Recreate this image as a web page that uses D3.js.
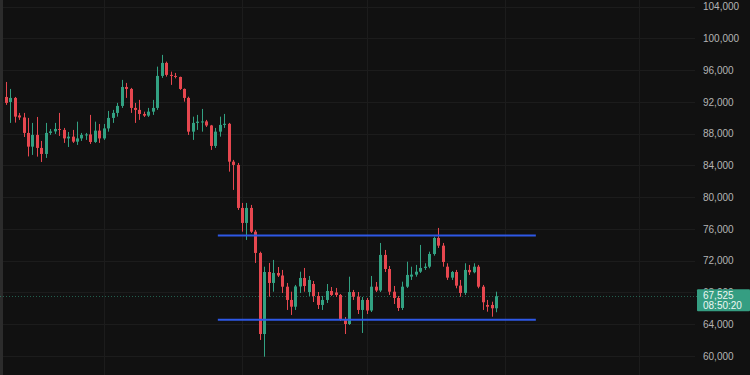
<!DOCTYPE html>
<html>
<head>
<meta charset="utf-8">
<script src="https://cdn.jsdelivr.net/npm/d3@7"></script>
<style>
  body { margin: 0; background: #111111; }
</style>
</head>
<body>
<div class="chart"></div>
<script>
// Daily candles, first one on this date
var firstDay = "2025-12-10";

var open = [92630, 92000, 92510, 90300, 90050, 88100, 86370, 87850, 86210, 85450,
    88100, 88290, 88600, 88480, 87410, 87630, 87000, 87410, 87850, 87910,
    86960, 88390, 87410, 88670, 89990, 90620, 91500, 93890, 93640, 91250,
    91000, 90490, 90280, 90780, 91250, 95280, 96920, 95410, 95280, 95150,
    93640, 92510, 88260, 89360, 89420, 89550, 89040, 86460, 88260, 89110,
    89250, 84480, 84070, 78650, 76760, 78650, 75660, 72980, 62770, 70580,
    69200, 70460, 70140, 68730, 67060, 66210, 68760, 69830, 68060, 69070,
    67560, 66430, 67060, 68190, 68000, 67690, 64600, 64030, 68060, 67470,
    65800, 67060, 65730, 68730, 68250, 72730, 70960, 68100, 67310, 66050,
    68730, 70000, 70250, 70620, 71090, 71250, 72850, 74870, 73900, 71250,
    69870, 70580, 68860, 67940, 70840, 70550, 71250, 68730, 66430, 66430,
    66010];

var high = [94520, 93640, 92630, 90620, 90620, 89990, 89360, 90110, 87090, 89360,
    88600, 89360, 90620, 88730, 88220, 88480, 89520, 88100, 88100, 90370,
    89520, 89230, 89230, 90870, 91000, 91880, 94780, 94400, 93770, 91880,
    92260, 90780, 91250, 92260, 96450, 97930, 97080, 95820, 95660, 95190,
    93700, 92670, 90150, 90370, 91120, 89740, 89110, 88730, 90150, 90490,
    89360, 84700, 84320, 79280, 79280, 79030, 75880, 73140, 71250, 71720,
    72100, 71210, 70840, 69200, 68100, 68950, 70620, 71090, 70080, 69450,
    68060, 67560, 69070, 68690, 68570, 67810, 64910, 69990, 68320, 68060,
    67430, 67310, 70080, 69320, 74240, 73360, 71340, 68820, 67560, 69360,
    71880, 71250, 71470, 73990, 71680, 73140, 75030, 76130, 74240, 71680,
    70710, 70840, 69580, 71680, 71470, 71680, 71470, 68950, 67060, 66840,
    68100];

var low = [91630, 89360, 89400, 89740, 87590, 85140, 85330, 85110, 84440, 84950,
    87850, 87970, 87720, 86840, 86330, 86840, 86590, 87090, 87220, 86710,
    86840, 86840, 87220, 88260, 89360, 90150, 91250, 92510, 90620, 89360,
    89740, 90110, 90110, 90370, 91000, 95030, 95190, 94150, 94970, 93520,
    92040, 87850, 87220, 88480, 88260, 88850, 85960, 86210, 87630, 88730,
    83220, 80920, 78400, 75660, 74620, 75500, 71720, 62020, 59910, 67470,
    68100, 69950, 67940, 65800, 65170, 65800, 67940, 68100, 67560, 66800,
    65920, 65800, 66680, 67560, 67430, 64410, 62770, 63910, 67060, 65290,
    62900, 65290, 65540, 68060, 68060, 70580, 67690, 66550, 65670, 65800,
    68570, 69580, 69990, 70460, 70840, 71050, 72640, 73610, 71250, 69580,
    69580, 68530, 67470, 67690, 70210, 70420, 68530, 65800, 65580, 64950,
    65510];

var close = [91880, 92510, 90150, 90050, 88100, 86370, 87850, 86210, 85450, 88100,
    88290, 88600, 88480, 87410, 87630, 87000, 87410, 87850, 87910, 86960,
    88390, 87410, 88670, 89990, 90620, 91500, 93890, 93640, 91250, 91000,
    90490, 90280, 90780, 91250, 95280, 96920, 95410, 95280, 95150, 93640,
    92510, 88260, 89360, 89520, 89550, 89040, 86460, 88260, 89110, 89250,
    84480, 84070, 78650, 76760, 78650, 75660, 72980, 62770, 70580, 69200,
    70460, 70140, 68730, 67060, 66210, 68760, 69830, 68820, 69580, 67560,
    66430, 67060, 68190, 67690, 67690, 64600, 64030, 68060, 67470, 65800,
    67060, 65730, 68730, 68250, 72730, 70960, 68100, 67310, 66050, 68730,
    70210, 70250, 70620, 71090, 71250, 72850, 74870, 73900, 71840, 69870,
    70580, 68860, 67940, 70840, 70550, 71250, 68730, 66770, 66210, 66010,
    67525];

var priceTicks = [60000, 64000, 68000, 72000, 76000, 80000, 84000, 88000,
    92000, 96000, 100000, 104000];

// Horizontal range lines drawn on the chart
var levels = [75180, 64570];
var levelFrom = "2026-01-26T14:00:00Z",
    levelTo = "2026-04-07T22:00:00Z";

var lastPrice = 67525,
    countdown = "08:50:20";

var width = 750,
    height = 375,
    plotW = 695;

var green = "#32a182",
    red = "#e6474f";

var candles = close.map((c, i) => {
    return {
        date: d3.utcDay.offset(new Date(firstDay), i),
        o: open[i], h: high[i], l: low[i], c: c
    };
});

var x = d3.scaleUtc()
    .domain([new Date("2025-12-08T17:17:00Z"), new Date("2026-05-13T14:50:00Z")])
    .range([0, plotW]);

var y = d3.scaleLinear()
    .domain([60000, 104000])
    .range([356, 6.7]);

var svg = d3.select(".chart")
    .append("svg")
    .attr("width", width)
    .attr("height", height)
    .style("display", "block")
    .style("font-family", "'Liberation Sans', Arial, sans-serif");

svg.append("rect")
    .attr("width", width)
    .attr("height", height)
    .attr("fill", "#111111");

// Grid
svg.append("g")
    .selectAll("line")
    .data(priceTicks)
    .enter()
    .append("line")
    .attr("x1", 0)
    .attr("x2", plotW)
    .attr("y1", (d) => { return Math.round(y(d)) + 0.5; })
    .attr("y2", (d) => { return Math.round(y(d)) + 0.5; })
    .attr("stroke", "#1c1c1c");

svg.append("g")
    .selectAll("line")
    .data(d3.utcMonth.range(x.domain()[0], x.domain()[1]))
    .enter()
    .append("line")
    .attr("x1", (d) => { return Math.round(x(d)) + 0.5; })
    .attr("x2", (d) => { return Math.round(x(d)) + 0.5; })
    .attr("y1", 0)
    .attr("y2", height)
    .attr("stroke", "#1c1c1c");

// left edge strip
svg.append("rect")
    .attr("width", 3)
    .attr("height", height)
    .attr("fill", "#2c2c2c");

// Price line (dotted)
svg.append("line")
    .attr("x1", 0)
    .attr("x2", 697)
    .attr("y1", Math.round(y(lastPrice)) + 0.5)
    .attr("y2", Math.round(y(lastPrice)) + 0.5)
    .attr("stroke", green)
    .attr("stroke-opacity", 0.55)
    .attr("stroke-dasharray", "1,2");

// Candles
var candle = svg.append("g")
    .selectAll("g")
    .data(candles)
    .enter()
    .append("g")
    .attr("fill", (d) => { return d.c >= d.o ? green : red; })
    .attr("stroke", (d) => { return d.c >= d.o ? green : red; });

candle.append("line")
    .attr("x1", (d) => { return Math.round(x(d.date)) + 0.5; })
    .attr("x2", (d) => { return Math.round(x(d.date)) + 0.5; })
    .attr("y1", (d) => { return y(d.h); })
    .attr("y2", (d) => { return y(d.l); })
    .attr("stroke-width", 1);

candle.append("rect")
    .attr("x", (d) => { return Math.round(x(d.date)) - 1; })
    .attr("width", 3)
    .attr("y", (d) => { return y(Math.max(d.o, d.c)); })
    .attr("height", (d) => { return Math.max(1, Math.abs(y(d.o) - y(d.c))); })
    .attr("stroke", "none");

// Range levels
svg.append("g")
    .selectAll("line")
    .data(levels)
    .enter()
    .append("line")
    .attr("x1", x(new Date(levelFrom)))
    .attr("x2", x(new Date(levelTo)))
    .attr("y1", (d) => { return y(d); })
    .attr("y2", (d) => { return y(d); })
    .attr("stroke", "#2e58e6")
    .attr("stroke-width", 2);

// Price axis
var axis = svg.append("g")
    .attr("transform", "translate(" + plotW + ",0)")
    .call(d3.axisRight(y)
        .tickValues(priceTicks)
        .tickSize(0)
        .tickPadding(8)
        .tickFormat(d3.format(",")));

axis.select(".domain").remove();
axis.selectAll("text")
    .attr("fill", "#b4b4b4")
    .style("font-size", "10px")
    .style("font-family", "'Liberation Sans', Arial, sans-serif");

// Last price label
var py = y(lastPrice);
svg.append("rect")
    .attr("x", 697)
    .attr("y", py - 7)
    .attr("width", 53)
    .attr("height", 22)
    .attr("rx", 1)
    .attr("fill", "#359e82");

svg.append("text")
    .text(d3.format(",")(lastPrice))
    .attr("x", 703)
    .attr("y", py + 3)
    .attr("fill", "#ecf7f3")
    .style("font-size", "10px");

svg.append("text")
    .text(countdown)
    .attr("x", 703)
    .attr("y", py + 12.5)
    .attr("fill", "#ecf7f3")
    .style("font-size", "10px");
</script>
</body>
</html>
